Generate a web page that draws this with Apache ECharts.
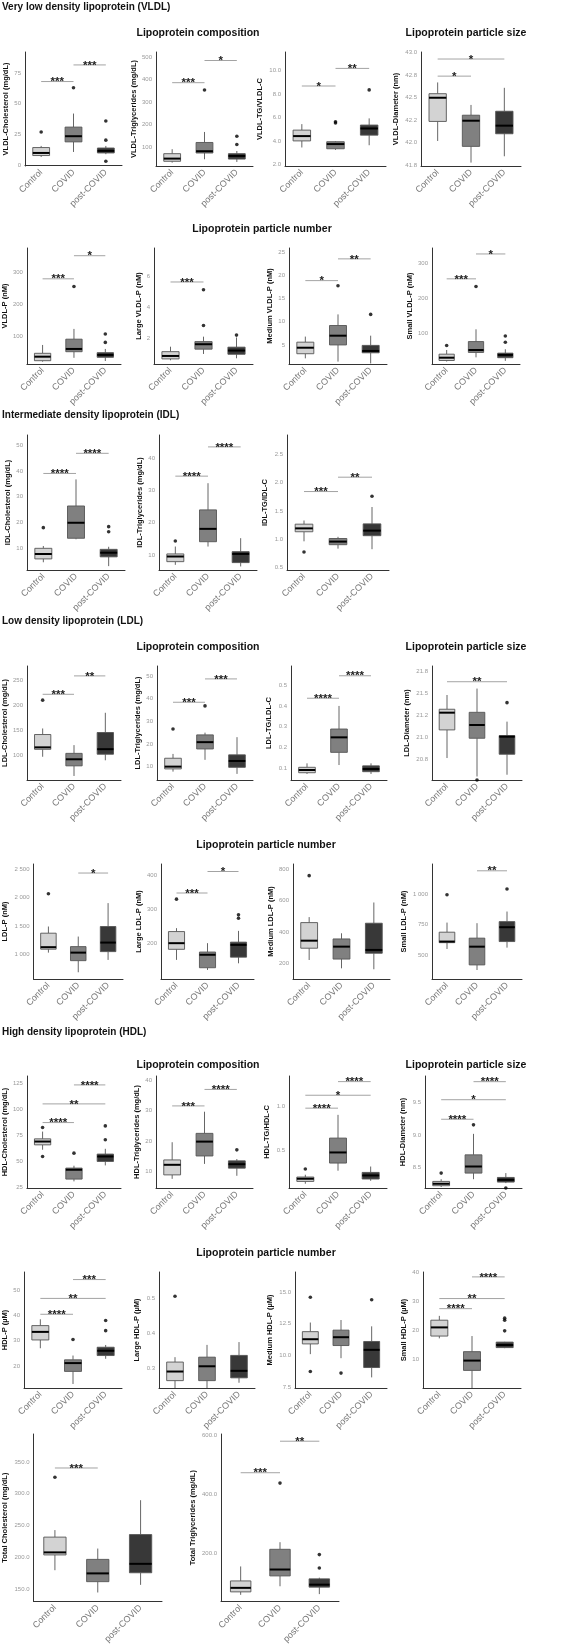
<!DOCTYPE html>
<html>
<head>
<meta charset="utf-8">
<script src="https://cdn.jsdelivr.net/npm/echarts@6.0.0/dist/echarts.min.js"></script>
<style>
  html, body { margin: 0; padding: 0; background: #fff; }
  #main { width: 564px; height: 1646px; }
</style>
</head>
<body>
<div id="main"></div>
<script>
// groups on the x axis
const groups = ['Control', 'COVID', 'post-COVID'];
const fills = ['#d3d3d3', '#808080', '#383838'];

// each panel: box = [min, q1, median, q3, max] per group, out = [group, value],
// sig = [from, to, y, stars], range = y axis [min, max], ticks = y tick values

// VLDL composition / size
const vldlC_box = [[6.7, 7.9, 10, 14.4, 15.7], [10.8, 19, 23.6, 31, 42], [9, 10, 11.7, 14, 15.7]];
const vldlC_out = [[0, 27], [1, 63], [2, 36], [2, 20.4], [2, 3.3]];
const vldlC_sig = [[0, 1, 68, '***'], [1, 2, 81.5, '***']];
const vldlC_range = [-0.6, 92];
const vldlC_ticks = [0, 25, 50, 75];

const vldlTG_box = [[30, 36, 48, 70, 90], [45, 73, 81, 120, 167], [33, 46, 60, 70, 82]];
const vldlTG_out = [[1, 354], [2, 111], [2, 148]];
const vldlTG_sig = [[0, 1, 387, '***'], [1, 2, 486, '*']];
const vldlTG_range = [15, 524];
const vldlTG_ticks = [100, 200, 300, 400, 500];

const vldlR_box = [[3.46, 4.02, 4.43, 4.94, 5.45], [3.25, 3.35, 3.75, 3.95, 4.0], [3.65, 4.51, 5.08, 5.37, 5.94]];
const vldlR_out = [[1, 5.65], [1, 5.55], [2, 8.37]];
const vldlR_sig = [[0, 1, 8.7, '*'], [1, 2, 10.2, '**']];
const vldlR_range = [1.88, 11.6];
const vldlR_ticks = [2, 4, 6, 8, 10];

const vldlD_box = [[42.02, 42.237, 42.5, 42.545, 42.67], [41.78, 41.96, 42.245, 42.306, 42.42], [41.85, 42.1, 42.19, 42.35, 42.61]];
const vldlD_out = [];
const vldlD_sig = [[0, 1, 42.74, '*'], [0, 2, 42.93, '*']];
const vldlD_range = [41.742, 43.008];
const vldlD_ticks = [41.75, 42, 42.25, 42.5, 42.75, 43];

// VLDL particle number
const vldlP_box = [[22, 25, 37.5, 48, 74], [34, 53, 61.6, 92, 124], [24, 35.6, 43, 50, 61.6]];
const vldlP_out = [[1, 256], [2, 108], [2, 82]];
const vldlP_sig = [[0, 1, 280, '***'], [1, 2, 352, '*']];
const vldlP_range = [14.7, 376];
const vldlP_ticks = [100, 200, 300];

const lgVldlP_box = [[0.57, 0.66, 0.85, 1.13, 1.45], [0.98, 1.29, 1.61, 1.78, 2.1], [0.7, 0.96, 1.2, 1.42, 2.05]];
const lgVldlP_out = [[1, 5.14], [1, 2.82], [2, 2.2]];
const lgVldlP_sig = [[0, 1, 5.64, '***']];
const lgVldlP_range = [0.33, 7.84];
const lgVldlP_ticks = [2, 4, 6];

const mdVldlP_box = [[2.1, 3.1, 4.4, 5.6, 6.8], [1.4, 5.0, 7.0, 9.2, 11.6], [1.0, 3.3, 3.7, 4.9, 7.0]];
const mdVldlP_out = [[1, 17.8], [2, 11.6]];
const mdVldlP_sig = [[0, 1, 18.9, '*'], [1, 2, 23.6, '**']];
const mdVldlP_range = [0.88, 25.95];
const mdVldlP_ticks = [5, 10, 15, 20, 25];

const smVldlP_box = [[19, 22, 30, 40, 52], [31, 45, 52, 76, 111], [21, 30, 38, 43, 54]];
const smVldlP_out = [[0, 65], [1, 233], [2, 92], [2, 74]];
const smVldlP_sig = [[0, 1, 255, '***'], [1, 2, 326, '*']];
const smVldlP_range = [12, 343];
const smVldlP_ticks = [100, 200, 300];

// IDL
const idlC_box = [[4.6, 5.9, 7.8, 10, 10.9], [13.5, 13.9, 19.9, 26.4, 36.7], [3.1, 6.7, 8.3, 9.6, 10.6]];
const idlC_out = [[0, 18], [2, 18.4], [2, 16.4]];
const idlC_sig = [[0, 1, 39, '****'], [1, 2, 46.8, '****']];
const idlC_range = [1.6, 53.9];
const idlC_ticks = [10, 20, 30, 40, 50];

const idlTG_box = [[6.9, 7.9, 9.5, 10.3, 12.6], [12.6, 14.1, 18.1, 24, 32.3], [6.4, 7.6, 10.3, 11, 15.2]];
const idlTG_out = [[0, 14.3]];
const idlTG_sig = [[0, 1, 34.5, '****'], [1, 2, 43.6, '****']];
const idlTG_range = [5.3, 47.3];
const idlTG_ticks = [10, 20, 30, 40];

const idlR_box = [[0.96, 1.13, 1.19, 1.265, 1.33], [0.83, 0.9, 0.955, 1.01, 1.04], [0.82, 1.06, 1.15, 1.27, 1.57]];
const idlR_out = [[0, 0.77], [2, 1.76]];
const idlR_sig = [[0, 1, 1.845, '***'], [1, 2, 2.1, '**']];
const idlR_range = [0.45, 2.85];
const idlR_ticks = [0.5, 1, 1.5, 2, 2.5];

// LDL composition / size
const ldlC_box = [[98, 112.7, 116.6, 142, 154], [60, 80, 93, 104.7, 121], [91, 103, 113, 146, 185]];
const ldlC_out = [[0, 210]];
const ldlC_sig = [[0, 1, 221.6, '***'], [1, 2, 258, '**']];
const ldlC_range = [52, 277.6];
const ldlC_ticks = [100, 150, 200, 250];

const ldlTG_box = [[7.8, 9, 10, 13.7, 15.6], [13, 17.8, 20.8, 24, 25], [6.8, 9.7, 12.5, 15.2, 23]];
const ldlTG_out = [[0, 26.6], [1, 36.8]];
const ldlTG_sig = [[0, 1, 38.4, '***'], [1, 2, 48.7, '***']];
const ldlTG_range = [4.1, 54.4];
const ldlTG_ticks = [10, 20, 30, 40, 50];

const ldlR_box = [[0.073, 0.079, 0.092, 0.105, 0.124], [0.116, 0.177, 0.249, 0.289, 0.4], [0.073, 0.084, 0.097, 0.112, 0.124]];
const ldlR_out = [];
const ldlR_sig = [[0, 1, 0.437, '****'], [1, 2, 0.545, '****']];
const ldlR_range = [0.044, 0.592];
const ldlR_ticks = [0.1, 0.2, 0.3, 0.4, 0.5];

const ldlD_box = [[20.76, 21.08, 21.276, 21.315, 21.477], [20.55, 20.985, 21.136, 21.28, 21.55], [20.57, 20.803, 21.003, 21.015, 21.174]];
const ldlD_out = [[1, 20.51], [2, 21.39]];
const ldlD_sig = [[0, 2, 21.628, '**']];
const ldlD_range = [20.51, 21.807];
const ldlD_ticks = [20.75, 21, 21.25, 21.5, 21.75];

// LDL particle number
const ldlP_box = [[1023, 1084, 1120, 1369, 1488], [673, 880, 1023, 1130, 1309], [893, 1041, 1202, 1488, 1905]];
const ldlP_out = [[0, 2071]];
const ldlP_sig = [[1, 2, 2441, '*']];
const ldlP_range = [553, 2602];
const ldlP_ticks = [1000, 1500, 2000, 2500];

const lgLdlP_box = [[151, 182, 200, 234, 244], [121.5, 128, 166, 174, 200], [141, 159, 195, 203, 236]];
const lgLdlP_out = [[0, 329], [2, 283], [2, 273]];
const lgLdlP_sig = [[0, 1, 347, '***'], [1, 2, 410, '*']];
const lgLdlP_range = [95, 432];
const lgLdlP_ticks = [200, 300, 400];

const mdLdlP_box = [[221, 296, 344, 459, 494], [168, 227, 306, 355, 391], [162, 264, 285, 455, 587]];
const mdLdlP_out = [[0, 758]];
const mdLdlP_sig = [];
const mdLdlP_range = [100, 832];
const mdLdlP_ticks = [200, 400, 600, 800];

const smLdlP_box = [[549, 601, 610, 687, 766], [376, 418, 568, 638, 761], [560, 610, 728, 774, 857]];
const smLdlP_out = [[0, 995], [2, 1042]];
const smLdlP_sig = [[1, 2, 1192, '**']];
const smLdlP_range = [302, 1248];
const smLdlP_ticks = [500, 750, 1000, 1250];

// HDL composition / size
const hdlC_box = [[61.3, 66, 69.2, 71.8, 78.8], [30.8, 33, 42, 43.6, 45.9], [46.2, 50, 54.8, 57.1, 62.2]];
const hdlC_out = [[0, 82.7], [0, 54.8], [1, 58], [2, 84.3], [2, 70.9]];
const hdlC_sig = [[0, 1, 87.5, '****'], [0, 2, 105.5, '**'], [1, 2, 123.8, '****']];
const hdlC_range = [24.4, 132.4];
const hdlC_ticks = [25, 50, 75, 100, 125];

const hdlTG_box = [[7.6, 8.9, 12.2, 13.8, 19.6], [12.5, 15.1, 19.8, 22.5, 29.6], [8.6, 11.1, 12.4, 13.5, 14.1]];
const hdlTG_out = [[2, 17.1]];
const hdlTG_sig = [[0, 1, 31.5, '***'], [1, 2, 36.9, '****']];
const hdlTG_range = [4.6, 41.3];
const hdlTG_ticks = [10, 20, 30, 40];

const hdlR_box = [[0.127, 0.153, 0.183, 0.202, 0.228], [0.273, 0.359, 0.478, 0.639, 0.9], [0.16, 0.18, 0.22, 0.254, 0.32]];
const hdlR_out = [[0, 0.292]];
const hdlR_sig = [[0, 1, 0.975, '****'], [0, 2, 1.12, '*'], [1, 2, 1.273, '****']];
const hdlR_range = [0.079, 1.336];
const hdlR_ticks = [0.5, 1.0];

const hdlD_box = [[8.2, 8.22, 8.25, 8.286, 8.32], [8.32, 8.414, 8.515, 8.694, 9.016], [8.26, 8.276, 8.31, 8.347, 8.414]];
const hdlD_out = [[0, 8.414], [1, 9.154], [2, 8.185]];
const hdlD_sig = [[0, 1, 9.24, '****'], [0, 2, 9.54, '*'], [1, 2, 9.817, '****']];
const hdlD_range = [8.185, 9.904];
const hdlD_ticks = [8.5, 9, 9.5];

// HDL particle number
const hdlP_box = [[27, 30.3, 33.5, 36, 38.5], [12.8, 17.8, 21.1, 22.4, 24.1], [22.8, 24.1, 26, 27.4, 28.3]];
const hdlP_out = [[1, 30.5], [2, 38], [2, 34]];
const hdlP_sig = [[0, 1, 40.5, '****'], [0, 2, 46.8, '**'], [1, 2, 54.3, '***']];
const hdlP_range = [11.2, 57.3];
const hdlP_ticks = [20, 30, 40, 50];

const lgHdlP_box = [[0.243, 0.264, 0.29, 0.317, 0.331], [0.243, 0.264, 0.305, 0.331, 0.366], [0.258, 0.272, 0.292, 0.336, 0.374]];
const lgHdlP_out = [[0, 0.505]];
const lgHdlP_sig = [];
const lgHdlP_range = [0.243, 0.574];
const lgHdlP_ticks = [0.3, 0.4, 0.5];

const mdHdlP_box = [[10.1, 10.91, 11.28, 11.88, 12.6], [9.78, 10.78, 11.44, 12.0, 12.8], [8.26, 9.04, 10.44, 11.1, 12.3]];
const mdHdlP_out = [[0, 8.73], [0, 14.6], [1, 8.6], [2, 14.4]];
const mdHdlP_sig = [];
const mdHdlP_range = [7.42, 16.6];
const mdHdlP_ticks = [7.5, 10, 12.5, 15];

const smHdlP_box = [[17.2, 18, 21, 23.5, 25], [0, 6.1, 9.5, 12.6, 18], [13.8, 14, 14.9, 15.9, 16]];
const smHdlP_out = [[2, 19.8], [2, 23.5], [2, 24.2]];
const smHdlP_sig = [[0, 1, 27.5, '****'], [0, 2, 31, '**'], [1, 2, 38.5, '****']];
const smHdlP_range = [0, 40.2];
const smHdlP_ticks = [10, 20, 30, 40];

// totals
const totC_box = [[180, 204, 208, 232, 243], [145, 162, 175, 197, 214], [157, 176, 190, 236, 290]];
const totC_out = [[0, 326]];
const totC_sig = [[0, 1, 340.6, '***']];
const totC_range = [131, 394];
const totC_ticks = [150, 200, 250, 300, 350];

const totTG_box = [[59, 69, 82.6, 106, 155], [88, 123, 144.6, 213, 237], [61.4, 85, 93.4, 113, 117]];
const totTG_out = [[1, 437], [2, 195], [2, 150]];
const totTG_sig = [[0, 1, 472, '***'], [1, 2, 578.6, '**']];
const totTG_range = [36.8, 603];
const totTG_ticks = [200, 400, 600];

// panel layout: [left, top, width, height], dec = decimals of tick labels
const panels = [
  { name: 'VLDL-Cholesterol (mg/dL)', box: vldlC_box, out: vldlC_out, sig: vldlC_sig, range: vldlC_range, ticks: vldlC_ticks, dec: 0, pos: [25, 52, 97, 114] },
  { name: 'VLDL-Triglycerides (mg/dL)', box: vldlTG_box, out: vldlTG_out, sig: vldlTG_sig, range: vldlTG_range, ticks: vldlTG_ticks, dec: 0, pos: [156, 52, 97, 114] },
  { name: 'VLDL-TG/VLDL-C', box: vldlR_box, out: vldlR_out, sig: vldlR_sig, range: vldlR_range, ticks: vldlR_ticks, dec: 1, pos: [285, 52, 101, 114] },
  { name: 'VLDL-Diameter (nm)', box: vldlD_box, out: vldlD_out, sig: vldlD_sig, range: vldlD_range, ticks: vldlD_ticks, dec: 1, pos: [421, 52, 100, 114] },

  { name: 'VLDL-P (nM)', box: vldlP_box, out: vldlP_out, sig: vldlP_sig, range: vldlP_range, ticks: vldlP_ticks, dec: 0, pos: [26, 248, 95, 116] },
  { name: 'Large VLDL-P (nM)', box: lgVldlP_box, out: lgVldlP_out, sig: lgVldlP_sig, range: lgVldlP_range, ticks: lgVldlP_ticks, dec: 0, pos: [154, 248, 99, 116] },
  { name: 'Medium VLDL-P (nM)', box: mdVldlP_box, out: mdVldlP_out, sig: mdVldlP_sig, range: mdVldlP_range, ticks: mdVldlP_ticks, dec: 0, pos: [289, 248, 98, 116] },
  { name: 'Small VLDL-P (nM)', box: smVldlP_box, out: smVldlP_out, sig: smVldlP_sig, range: smVldlP_range, ticks: smVldlP_ticks, dec: 0, pos: [432, 248, 88, 116] },

  { name: 'IDL-Cholesterol (mg/dL)', box: idlC_box, out: idlC_out, sig: idlC_sig, range: idlC_range, ticks: idlC_ticks, dec: 0, pos: [27, 435, 98, 135] },
  { name: 'IDL-Triglycerides (mg/dL)', box: idlTG_box, out: idlTG_out, sig: idlTG_sig, range: idlTG_range, ticks: idlTG_ticks, dec: 0, pos: [159, 435, 98, 135] },
  { name: 'IDL-TG/IDL-C', box: idlR_box, out: idlR_out, sig: idlR_sig, range: idlR_range, ticks: idlR_ticks, dec: 1, pos: [287, 435, 102, 135] },

  { name: 'LDL-Cholesterol (mg/dL)', box: ldlC_box, out: ldlC_out, sig: ldlC_sig, range: ldlC_range, ticks: ldlC_ticks, dec: 0, pos: [27, 666, 94, 114] },
  { name: 'LDL-Triglycerides (mg/dL)', box: ldlTG_box, out: ldlTG_out, sig: ldlTG_sig, range: ldlTG_range, ticks: ldlTG_ticks, dec: 0, pos: [157, 666, 96, 114] },
  { name: 'LDL-TG/LDL-C', box: ldlR_box, out: ldlR_out, sig: ldlR_sig, range: ldlR_range, ticks: ldlR_ticks, dec: 1, pos: [291, 666, 96, 114] },
  { name: 'LDL-Diameter (nm)', box: ldlD_box, out: ldlD_out, sig: ldlD_sig, range: ldlD_range, ticks: ldlD_ticks, dec: 1, pos: [432, 666, 90, 114] },

  { name: 'LDL-P (nM)', box: ldlP_box, out: ldlP_out, sig: ldlP_sig, range: ldlP_range, ticks: ldlP_ticks, dec: 0, pos: [32, 864, 91, 115] },
  { name: 'Large LDL-P (nM)', box: lgLdlP_box, out: lgLdlP_out, sig: lgLdlP_sig, range: lgLdlP_range, ticks: lgLdlP_ticks, dec: 0, pos: [161, 864, 93, 115] },
  { name: 'Medium LDL-P (nM)', box: mdLdlP_box, out: mdLdlP_out, sig: mdLdlP_sig, range: mdLdlP_range, ticks: mdLdlP_ticks, dec: 0, pos: [293, 864, 97, 115] },
  { name: 'Small LDL-P (nM)', box: smLdlP_box, out: smLdlP_out, sig: smLdlP_sig, range: smLdlP_range, ticks: smLdlP_ticks, dec: 0, pos: [432, 864, 90, 115] },

  { name: 'HDL-Cholesterol (mg/dL)', box: hdlC_box, out: hdlC_out, sig: hdlC_sig, range: hdlC_range, ticks: hdlC_ticks, dec: 0, pos: [26, 1076, 95, 112] },
  { name: 'HDL-Triglycerides (mg/dL)', box: hdlTG_box, out: hdlTG_out, sig: hdlTG_sig, range: hdlTG_range, ticks: hdlTG_ticks, dec: 0, pos: [156, 1076, 97, 112] },
  { name: 'HDL-TG/HDL-C', box: hdlR_box, out: hdlR_out, sig: hdlR_sig, range: hdlR_range, ticks: hdlR_ticks, dec: 1, pos: [289, 1076, 98, 112] },
  { name: 'HDL-Diameter (nm)', box: hdlD_box, out: hdlD_out, sig: hdlD_sig, range: hdlD_range, ticks: hdlD_ticks, dec: 1, pos: [425, 1076, 97, 112] },

  { name: 'HDL-P (µM)', box: hdlP_box, out: hdlP_out, sig: hdlP_sig, range: hdlP_range, ticks: hdlP_ticks, dec: 0, pos: [24, 1272, 98, 116] },
  { name: 'Large HDL-P (µM)', box: lgHdlP_box, out: lgHdlP_out, sig: lgHdlP_sig, range: lgHdlP_range, ticks: lgHdlP_ticks, dec: 1, pos: [159, 1272, 96, 116] },
  { name: 'Medium HDL-P (µM)', box: mdHdlP_box, out: mdHdlP_out, sig: mdHdlP_sig, range: mdHdlP_range, ticks: mdHdlP_ticks, dec: 1, pos: [295, 1272, 92, 116] },
  { name: 'Small HDL-P (µM)', box: smHdlP_box, out: smHdlP_out, sig: smHdlP_sig, range: smHdlP_range, ticks: smHdlP_ticks, dec: 0, pos: [423, 1272, 98, 116] },

  { name: 'Total Cholesterol (mg/dL)', box: totC_box, out: totC_out, sig: totC_sig, range: totC_range, ticks: totC_ticks, dec: 1, pos: [30, 1434, 132, 177] },
  { name: 'Total Triglycerides (mg/dL)', box: totTG_box, out: totTG_out, sig: totTG_sig, range: totTG_range, ticks: totTG_ticks, dec: 1, pos: [221, 1434, 118, 177] }
];

// section headers and sub headers
const headers = [
  { text: 'Very low density lipoprotein (VLDL)', x: 2, y: 7, big: true },
  { text: 'Lipoprotein composition', x: 198, y: 33 },
  { text: 'Lipoprotein particle size', x: 466, y: 33 },
  { text: 'Lipoprotein particle number', x: 262, y: 229 },
  { text: 'Intermediate density lipoprotein (IDL)', x: 2, y: 415, big: true },
  { text: 'Low density lipoprotein (LDL)', x: 2, y: 621, big: true },
  { text: 'Lipoprotein composition', x: 198, y: 647 },
  { text: 'Lipoprotein particle size', x: 466, y: 647 },
  { text: 'Lipoprotein particle number', x: 266, y: 845 },
  { text: 'High density lipoprotein (HDL)', x: 2, y: 1032, big: true },
  { text: 'Lipoprotein composition', x: 198, y: 1065 },
  { text: 'Lipoprotein particle size', x: 466, y: 1065 },
  { text: 'Lipoprotein particle number', x: 266, y: 1253 }
];

const FONT = '"Liberation Sans", Arial, sans-serif';

// round half to even like R does, space as thousands separator
function fmt(v, d) {
  const m = Math.pow(10, d);
  const x = v * m;
  let r = Math.round(x);
  const fl = Math.floor(x);
  if (Math.abs(x - fl - 0.5) < 1e-9 && fl % 2 === 0) r = fl;
  const parts = (r / m).toFixed(d).split('.');
  parts[0] = parts[0].replace(/\B(?=(\d{3})+(?!\d))/g, ' ');
  return parts.join('.');
}

const chart = echarts.init(document.getElementById('main'), null, { renderer: 'canvas' });

const grid = [], xAxis = [], yAxis = [], series = [];

panels.forEach((p, i) => {
  grid.push({ left: p.pos[0], top: p.pos[1], width: p.pos[2], height: p.pos[3], containLabel: false });

  xAxis.push({
    gridIndex: i,
    type: 'category',
    data: groups,
    axisLine: { lineStyle: { color: '#333', width: 1 } },
    axisTick: { show: false },
    axisLabel: { rotate: 45, interval: 0, color: '#777', fontSize: 9, margin: 5, fontFamily: FONT },
    splitLine: { show: false }
  });

  const maxLen = Math.max.apply(null, p.ticks.map(t => fmt(t, p.dec).length));
  yAxis.push({
    gridIndex: i,
    type: 'value',
    min: p.range[0],
    max: p.range[1],
    name: p.name,
    nameLocation: 'middle',
    nameGap: maxLen * 3.3 + 8,
    nameTextStyle: { fontWeight: 'bold', fontSize: 7.5, color: '#111', fontFamily: FONT },
    axisLine: { show: true, lineStyle: { color: '#333', width: 1 } },
    axisTick: { show: false },
    splitLine: { show: false },
    axisLabel: {
      customValues: p.ticks,
      formatter: v => fmt(v, p.dec),
      color: '#999', fontSize: 6, margin: 4, fontFamily: FONT
    }
  });

  // boxes, whiskers and medians (no whisker caps, like ggplot)
  series.push({
    type: 'custom',
    xAxisIndex: i, yAxisIndex: i,
    data: p.box.map((b, j) => [j].concat(b)),
    renderItem: function (params, api) {
      const j = api.value(0);
      const lo = api.coord([j, api.value(1)]);
      const q1 = api.coord([j, api.value(2)]);
      const md = api.coord([j, api.value(3)]);
      const q3 = api.coord([j, api.value(4)]);
      const hi = api.coord([j, api.value(5)]);
      const w = api.size([1, 0])[0] * 0.26;
      const cx = md[0];
      const edge = { stroke: '#555', lineWidth: 0.9 };
      return {
        type: 'group',
        children: [
          { type: 'line', shape: { x1: cx, y1: q3[1], x2: cx, y2: hi[1] }, style: edge },
          { type: 'line', shape: { x1: cx, y1: q1[1], x2: cx, y2: lo[1] }, style: edge },
          { type: 'rect', shape: { x: cx - w, y: q3[1], width: 2 * w, height: q1[1] - q3[1] },
            style: { fill: fills[j], stroke: '#555', lineWidth: 0.9 } },
          { type: 'line', shape: { x1: cx - w, y1: md[1], x2: cx + w, y2: md[1] },
            style: { stroke: '#000', lineWidth: 2 } }
        ]
      };
    }
  });

  // outliers
  series.push({
    type: 'scatter',
    xAxisIndex: i, yAxisIndex: i,
    data: p.out,
    symbolSize: 3.6,
    itemStyle: { color: '#000' },
    silent: true,
    z: 4
  });

  // significance brackets
  if (p.sig.length) {
    series.push({
      type: 'custom',
      xAxisIndex: i, yAxisIndex: i,
      data: p.sig.map(s => [s[0], s[1], s[2]]),
      renderItem: function (params, api) {
        const a = api.coord([api.value(0), api.value(2)]);
        const b = api.coord([api.value(1), api.value(2)]);
        return {
          type: 'group',
          children: [
            { type: 'line', shape: { x1: a[0], y1: a[1], x2: b[0], y2: b[1] },
              style: { stroke: '#999', lineWidth: 0.9 } },
            { type: 'text', x: (a[0] + b[0]) / 2, y: a[1] + 0.5,
              style: { text: p.sig[params.dataIndex][3], align: 'center', verticalAlign: 'middle',
                fill: '#222', font: 'bold 11.5px ' + FONT } }
          ]
        };
      },
      z: 6
    });
  }
});

const graphic = headers.map(h => ({
  type: 'text',
  x: h.x,
  y: h.y,
  style: {
    text: h.text,
    align: h.big ? 'left' : 'center',
    verticalAlign: 'middle',
    fill: '#111',
    font: 'bold ' + (h.big ? 10 : 10.5) + 'px ' + FONT
  }
}));

chart.setOption({
  backgroundColor: '#fff',
  animation: false,
  grid: grid,
  xAxis: xAxis,
  yAxis: yAxis,
  series: series,
  graphic: graphic
});
</script>
</body>
</html>
